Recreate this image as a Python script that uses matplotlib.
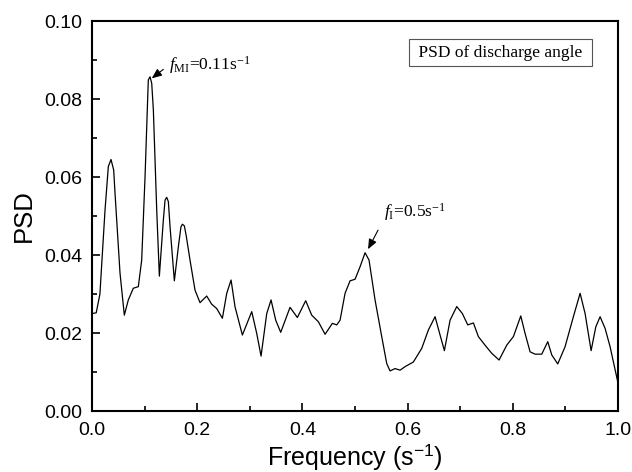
import matplotlib
matplotlib.use("Agg")
import matplotlib.pyplot as plt
from matplotlib.ticker import MultipleLocator

plt.rcParams['font.family'] = ['Liberation Sans', 'DejaVu Sans']
plt.rcParams['mathtext.fontset'] = 'custom'
plt.rcParams['mathtext.rm'] = 'Liberation Serif'
plt.rcParams['mathtext.it'] = 'Liberation Serif:italic'

# PSD curve
freq = [0.000, 0.008, 0.015, 0.0247, 0.031, 0.0361, 0.0412, 0.0437, 0.0532, 0.0614,
        0.0690, 0.0785, 0.0880, 0.0944, 0.1008, 0.1070, 0.1103, 0.1135, 0.1166, 0.1230,
        0.1280, 0.1356, 0.1388, 0.1420, 0.1451, 0.1483, 0.1565, 0.1641, 0.1690, 0.1717,
        0.1755, 0.1790, 0.1863, 0.1958, 0.2053, 0.2180, 0.2275, 0.2370, 0.2478, 0.2561,
        0.2643, 0.2719, 0.2858, 0.3036, 0.3131, 0.3213, 0.3321, 0.3403, 0.3492, 0.3587,
        0.3764, 0.3903, 0.4062, 0.4176, 0.4303, 0.4430, 0.4569, 0.4652, 0.4715, 0.4810,
        0.4905, 0.5000, 0.5095, 0.5190, 0.5266, 0.5380, 0.5507, 0.5602, 0.5665, 0.5760,
        0.5856, 0.5951, 0.6109, 0.6268, 0.6394, 0.6521, 0.6616, 0.6698, 0.6806, 0.6933,
        0.7040, 0.7142, 0.7250, 0.7344, 0.7471, 0.7599, 0.7738, 0.7883, 0.8010, 0.8150,
        0.8232, 0.8327, 0.8422, 0.8549, 0.8663, 0.8739, 0.8853, 0.8992, 0.9150, 0.9278,
        0.9373, 0.9487, 0.9576, 0.9658, 0.9753, 0.9848, 1.0000]
psd = [0.0250, 0.0252, 0.0300, 0.0515, 0.0627, 0.0645, 0.0618, 0.0559, 0.0354, 0.0246,
       0.0285, 0.0315, 0.0319, 0.0387, 0.0601, 0.0849, 0.0857, 0.0840, 0.0772, 0.0515,
       0.0346, 0.0490, 0.0541, 0.0548, 0.0537, 0.0473, 0.0334, 0.0421, 0.0472, 0.0479,
       0.0475, 0.0450, 0.0387, 0.0310, 0.0278, 0.0295, 0.0274, 0.0263, 0.0238, 0.0302,
       0.0336, 0.0267, 0.0195, 0.0255, 0.0199, 0.0141, 0.0250, 0.0285, 0.0233, 0.0202,
       0.0266, 0.0240, 0.0283, 0.0246, 0.0229, 0.0197, 0.0225, 0.0221, 0.0233, 0.0302,
       0.0334, 0.0338, 0.0370, 0.0406, 0.0387, 0.0285, 0.0191, 0.0122, 0.0103, 0.0109,
       0.0105, 0.0114, 0.0126, 0.0161, 0.0208, 0.0242, 0.0195, 0.0155, 0.0233, 0.0268,
       0.0250, 0.0221, 0.0226, 0.0191, 0.0169, 0.0148, 0.0131, 0.0169, 0.0191, 0.0244,
       0.0199, 0.0152, 0.0146, 0.0146, 0.0178, 0.0144, 0.0121, 0.0165, 0.0242, 0.0302,
       0.0250, 0.0155, 0.0216, 0.0242, 0.0212, 0.0165, 0.0071]

legend_text = " PSD of discharge angle "
peak_labels = [r"$f_{\rm MI}$=0.11s$^{-1}$", r"$f_{\rm I}$=0.5s$^{-1}$"]

fig = plt.figure(figsize=(6.32, 4.72), dpi=100)
ax = fig.add_axes([0.1456, 0.129, 0.8324, 0.8265])

ax.plot(freq, psd, color='black', lw=0.9, solid_joinstyle='round')

ax.set_xlim(0, 1.0)
ax.set_ylim(0, 0.10)
ax.xaxis.set_major_locator(MultipleLocator(0.2))
ax.xaxis.set_minor_locator(MultipleLocator(0.1))
ax.yaxis.set_major_locator(MultipleLocator(0.02))
ax.yaxis.set_minor_locator(MultipleLocator(0.01))
ax.xaxis.set_major_formatter(plt.FormatStrFormatter('%.1f'))
ax.yaxis.set_major_formatter(plt.FormatStrFormatter('%.2f'))
ax.tick_params(which='both', direction='in', top=False, right=False, width=1.2, labelsize=14)
ax.tick_params(which='major', length=6)
ax.tick_params(which='minor', length=3.5)
ax.tick_params(axis='x', pad=8)
ax.tick_params(axis='y', pad=7)
for s in ax.spines.values():
    s.set_linewidth(1.5)

ax.set_xlabel(r"Frequency (s$^{\mathregular{-1}}$)", fontsize=18, labelpad=2)
ax.set_ylabel("PSD", fontsize=18.5, labelpad=6)

ax.text(0.776, 0.0919, legend_text, family='Liberation Serif', fontsize=12.5,
        ha='center', va='center',
        bbox=dict(boxstyle='square,pad=0.3', fc='white', ec='#555555', lw=0.8))

arrow = dict(arrowstyle='-|>,head_length=0.6,head_width=0.25', color='black', lw=0.8,
             shrinkA=0, shrinkB=0)
ax.annotate('', xy=(0.1135, 0.0853), xytext=(0.1356, 0.0876), arrowprops=arrow)
ax.text(0.146, 0.0887, peak_labels[0], fontsize=12.5, family='Liberation Serif',
        va='center', ha='left')
ax.annotate('', xy=(0.5247, 0.0415), xytext=(0.5437, 0.0464), arrowprops=arrow)
ax.text(0.555, 0.0510, peak_labels[1], fontsize=12.5, family='Liberation Serif',
        va='center', ha='left')

fig.savefig("out.png", dpi=100)
